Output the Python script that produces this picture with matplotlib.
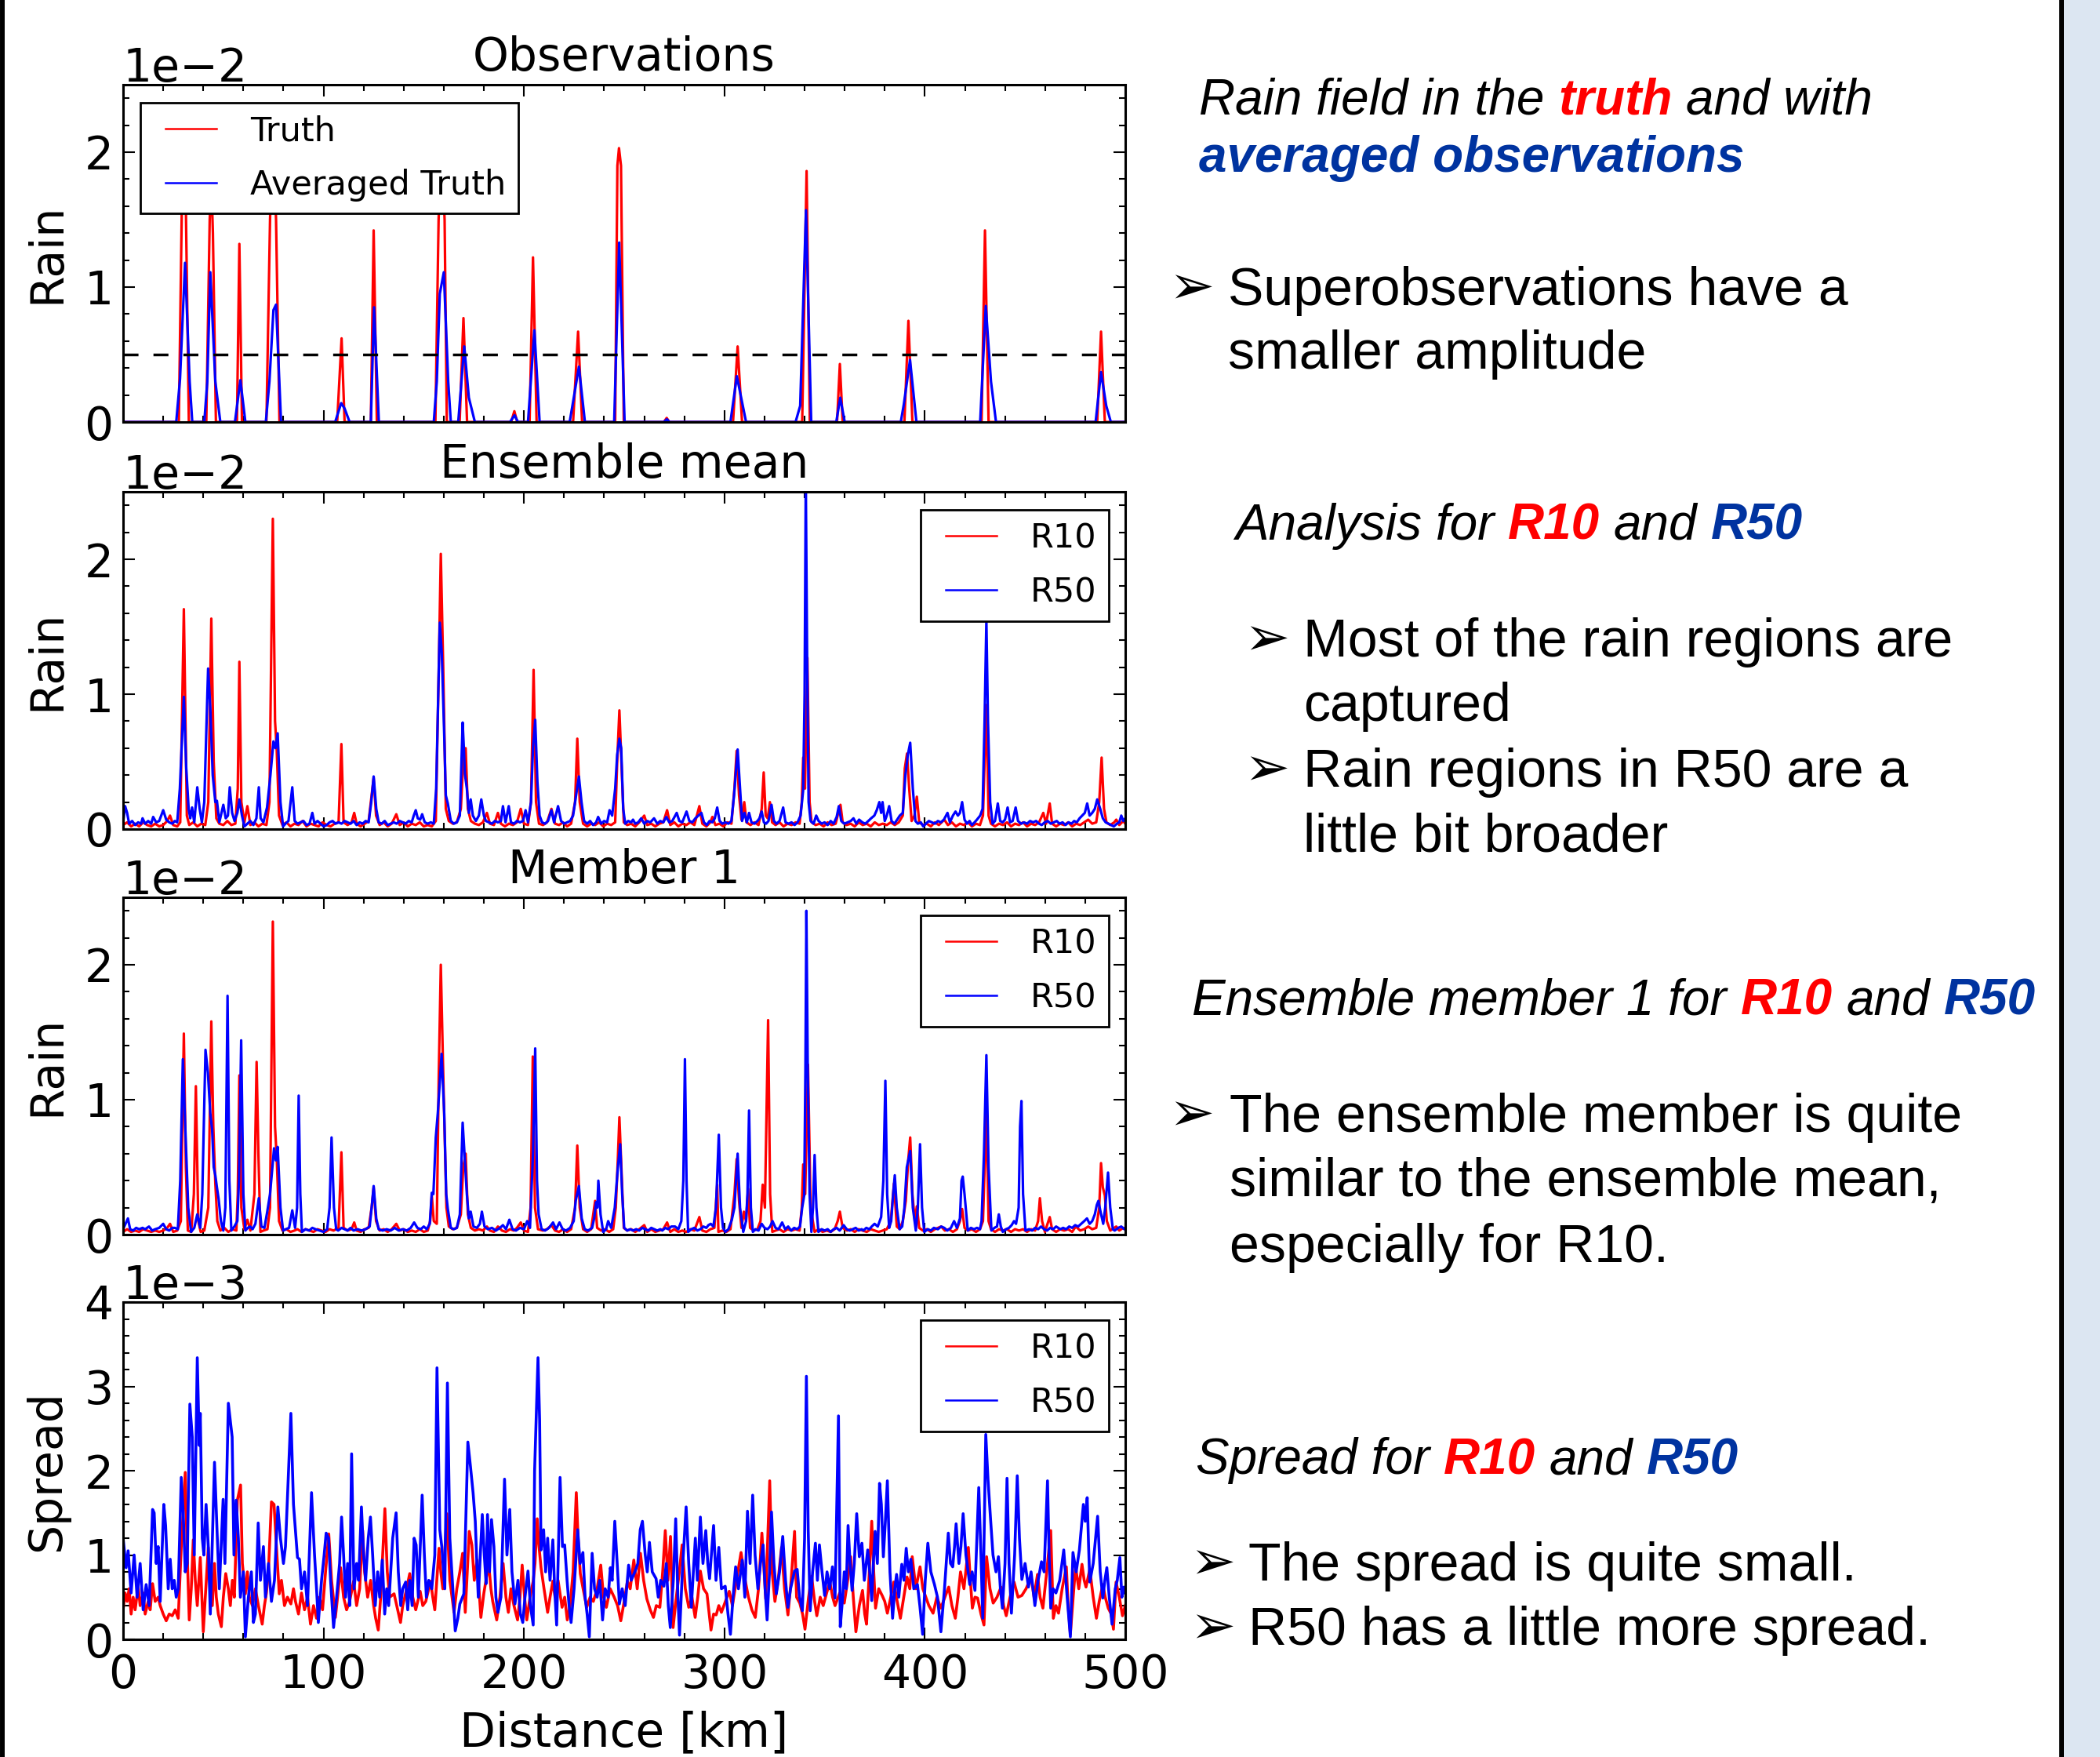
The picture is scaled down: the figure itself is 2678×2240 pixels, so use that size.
import numpy as np
import matplotlib
matplotlib.use('Agg')
import matplotlib.pyplot as plt
from matplotlib.ticker import MultipleLocator, ScalarFormatter
from matplotlib.transforms import IdentityTransform
from matplotlib.patches import Rectangle
from matplotlib.lines import Line2D
from matplotlib.legend_handler import HandlerLine2D

# ---- data (km, value); rain in 1e-2, spread in 1e-3 ----
obs_truth = [(0, 0), (27.8, 0), (29.3, 1.6), (30.3, 1.9), (31.3, 1.6), (32.8, 0), (41.5, 0), (43.2, 1.5),
             (44, 1.8), (44.8, 1.4), (46.3, 0), (56.8, 0), (58, 1.32), (59.3, 0), (71.5, 0), (73.3, 1.5),
             (74.7, 2.2), (76.3, 1.5), (78, 0), (106.8, 0), (109, 0.62), (110.5, 0), (123.6, 0), (125, 1.42),
             (126.6, 0), (155.8, 0), (157.4, 1.5), (158.8, 2.1), (160.4, 1.5), (161.5, 0), (167.9, 0),
             (169.8, 0.77), (171.6, 0), (193.6, 0), (195.2, 0.08), (196.6, 0), (202.8, 0), (204.5, 1.22),
             (206.3, 0), (224.5, 0), (227, 0.67), (229, 0), (245.5, 0), (246.6, 1.9), (247.4, 2.03),
             (248.4, 1.9), (249.8, 0), (269.8, 0), (271.2, 0.03), (272.5, 0), (304.3, 0), (306.6, 0.56),
             (308.8, 0), (338.8, 0), (341, 1.86), (342.6, 0), (356.2, 0), (357.6, 0.43), (359, 0),
             (389.8, 0), (391.8, 0.75), (393.8, 0), (428.3, 0), (430, 1.42), (431.8, 0), (486, 0),
             (487.9, 0.67), (489.8, 0), (500, 0)]
obs_avg = [(0, 0), (26.5, 0), (28.4, 0.32), (30.9, 1.18), (33.2, 0.3), (34.5, 0), (40.5, 0), (42, 0.3),
           (43.5, 1.11), (46, 0.3), (48.5, 0), (55.8, 0), (58.5, 0.31), (61, 0), (71.2, 0), (73, 0.3),
           (75, 0.83), (76.3, 0.87), (78.8, 0), (105.8, 0), (108.8, 0.14), (110.5, 0.1), (113, 0),
           (123.6, 0), (125.2, 0.85), (127.6, 0), (155, 0), (156.5, 0.3), (158, 0.95), (160, 1.11),
           (162.2, 0.3), (163.5, 0), (167.2, 0), (170.2, 0.56), (172.5, 0.18), (175.5, 0), (193, 0),
           (195.3, 0.05), (197, 0), (202, 0), (205.2, 0.68), (207.8, 0), (222.8, 0), (224.5, 0.15),
           (227.4, 0.41), (230.4, 0), (245, 0), (247.5, 1.33), (250.2, 0), (269.8, 0), (271.3, 0.02),
           (272.6, 0), (303, 0), (306.2, 0.34), (310.8, 0), (335.5, 0), (337.8, 0.12), (340.7, 1.57),
           (343.3, 0), (355.8, 0), (357.8, 0.18), (360, 0), (388, 0), (389.5, 0.13), (392.6, 0.46),
           (395.8, 0), (427.6, 0), (430.4, 0.86), (433, 0.3), (435.5, 0), (485.2, 0), (487.9, 0.37),
           (490.5, 0.12), (492.8, 0), (500, 0)]
obs_threshold = 0.5

mean_r10 = [(0, 0.03), (2, 0.05), (4, 0.02), (6, 0.04), (8, 0.02), (10, 0.05), (12, 0.03), (14, 0.02), (16, 0.04),
            (18, 0.02), (20, 0.03), (22, 0.06), (23.4, 0.1), (25, 0.03), (27, 0.02), (28.5, 0.05), (30.3, 1.63),
            (31.8, 0.1), (33, 0.03), (35, 0.05), (37, 0.02), (39, 0.04), (41, 0.03), (42.5, 0.2), (44, 1.56),
            (45.2, 0.5), (46.5, 0.08), (48, 0.04), (50, 0.03), (52, 0.06), (54, 0.03), (56, 0.04), (57.2, 0.3),
            (58, 1.24), (59, 0.2), (60.5, 0.05), (62, 0.17), (63.5, 0.03), (65.5, 0.05), (67.5, 0.02),
            (69.5, 0.04), (71.5, 0.03), (73, 0.2), (74.7, 2.3), (75.8, 0.8), (76.6, 0.6), (77.8, 0.1),
            (79.5, 0.03), (81.5, 0.05), (83.5, 0.02), (85.5, 0.04), (87.5, 0.03), (89.5, 0.06), (91.5, 0.02),
            (93.5, 0.04), (95.5, 0.03), (97.5, 0.02), (99.5, 0.05), (101.5, 0.03), (103.5, 0.02), (105.5, 0.04),
            (107.5, 0.05), (108.9, 0.63), (110, 0.05), (112, 0.03), (114, 0.05), (115.3, 0.12), (116.5, 0.04),
            (118.5, 0.02), (120.5, 0.04), (122.5, 0.06), (124, 0.25), (125, 0.38), (126.2, 0.1), (128, 0.03),
            (130, 0.05), (132, 0.02), (134, 0.04), (136.3, 0.11), (138, 0.03), (140, 0.05), (142, 0.02),
            (144, 0.04), (146, 0.03), (148, 0.05), (150, 0.02), (152, 0.03), (154, 0.02), (156, 0.06),
            (157.5, 1.2), (158.5, 2.04), (159.7, 1.2), (161, 0.15), (162.5, 0.06), (164.5, 0.04), (166.5, 0.05),
            (168.5, 0.15), (169.7, 0.5), (170.9, 0.6), (172, 0.15), (173.5, 0.06), (175.5, 0.04), (177.5, 0.03),
            (179.5, 0.05), (181.5, 0.12), (183, 0.04), (185, 0.03), (187, 0.12), (188.5, 0.04), (190.5, 0.02),
            (192.5, 0.04), (194.5, 0.03), (196.5, 0.05), (198.4, 0.15), (200, 0.04), (202, 0.03), (203.5, 0.2),
            (204.8, 1.18), (206, 0.2), (207.5, 0.04), (209.5, 0.03), (211.5, 0.05), (213.7, 0.15), (215.5, 0.04),
            (217.5, 0.03), (219.5, 0.05), (221.5, 0.02), (223.5, 0.04), (225.5, 0.2), (226.6, 0.67),
            (227.8, 0.2), (229.5, 0.04), (231.5, 0.02), (233.5, 0.04), (235.5, 0.03), (237.5, 0.05),
            (239.5, 0.02), (241.5, 0.04), (243.5, 0.03), (245.5, 0.05), (246.5, 0.5), (247.6, 0.88),
            (248.6, 0.5), (249.8, 0.05), (251.5, 0.03), (253.5, 0.04), (255.5, 0.02), (257.5, 0.05), (260, 0.1),
            (261.5, 0.03), (263.5, 0.04), (265.5, 0.02), (267.5, 0.04), (269.5, 0.05), (271.4, 0.14), (273, 0.03),
            (275, 0.05), (277, 0.02), (279, 0.04), (281, 0.03), (283, 0.05), (285, 0.03), (287.5, 0.17),
            (289, 0.04), (291, 0.02), (293, 0.05), (294, 0.09), (295.5, 0.03), (297.5, 0.04), (299.5, 0.02),
            (301.5, 0.05), (303.5, 0.04), (305, 0.3), (306.1, 0.58), (307.3, 0.25), (308.5, 0.07), (309.9, 0.2),
            (311, 0.05), (313, 0.03), (315, 0.05), (317, 0.03), (318.6, 0.15), (319.6, 0.42), (320.6, 0.1),
            (321.6, 0.08), (322.7, 0.2), (323.8, 0.05), (325.5, 0.03), (327.5, 0.05), (329.5, 0.02),
            (331.5, 0.04), (333.5, 0.03), (335.5, 0.05), (337.5, 0.04), (338.6, 0.2), (339.3, 0.53),
            (340.2, 0.3), (341.4, 1.27), (342.5, 0.2), (343.5, 0.05), (345.5, 0.03), (347.5, 0.04),
            (349.5, 0.02), (351.5, 0.05), (353.5, 0.03), (355.5, 0.04), (356.8, 0.12), (357.9, 0.18), (359, 0.05),
            (361, 0.03), (363, 0.04), (365, 0.02), (367, 0.05), (369, 0.03), (371, 0.04), (373, 0.02), (375, 0.05),
            (377, 0.03), (379, 0.04), (381, 0.03), (383, 0.05), (385, 0.03), (387, 0.05), (389, 0.1), (390, 0.45),
            (391.1, 0.56), (392.2, 0.3), (393.4, 0.06), (394.8, 0.1), (396, 0.24), (397.2, 0.05), (399, 0.03),
            (401, 0.04), (403, 0.02), (405, 0.05), (407, 0.03), (409.7, 0.07), (411.5, 0.03), (413.5, 0.05),
            (415.5, 0.02), (417.5, 0.04), (419.5, 0.03), (421.5, 0.05), (423.5, 0.02), (425.5, 0.04),
            (427.5, 0.03), (429, 0.1), (430.7, 0.92), (431.8, 0.1), (433, 0.04), (435, 0.02), (437, 0.04),
            (439, 0.03), (441, 0.05), (443, 0.02), (445, 0.04), (447, 0.03), (449, 0.05), (451, 0.02), (453, 0.04),
            (455, 0.03), (457, 0.05), (459.1, 0.12), (460.5, 0.04), (462.3, 0.19), (463.5, 0.04), (465.5, 0.02),
            (467.5, 0.04), (469.5, 0.03), (471.5, 0.05), (473.5, 0.02), (475.5, 0.04), (477.5, 0.03),
            (479.5, 0.05), (481.5, 0.07), (483.5, 0.04), (485.5, 0.05), (487, 0.2), (488.2, 0.53), (489.4, 0.15),
            (490.6, 0.05), (492.5, 0.03), (494.5, 0.05), (495.5, 0.07), (497, 0.03), (499, 0.06), (500, 0.04)]
mean_r50 = [(0, 0.05), (1, 0.17), (2, 0.12), (3, 0.04), (4.5, 0.06), (6, 0.03), (7.5, 0.05), (9, 0.04), (9.7, 0.08),
            (11, 0.04), (12.5, 0.06), (14, 0.04), (15, 0.09), (16.5, 0.05), (18, 0.06), (20, 0.14), (21.5, 0.07),
            (23, 0.05), (24.5, 0.04), (25.8, 0.06), (27, 0.05), (28.3, 0.3), (30.3, 0.98), (31.5, 0.45),
            (32.7, 0.15), (33.5, 0.08), (34.4, 0.16), (35.5, 0.05), (37, 0.31), (38.2, 0.15), (39.3, 0.05),
            (40.5, 0.2), (42.4, 1.19), (43.5, 0.9), (44.7, 0.4), (46, 0.2), (46.8, 0.21), (48, 0.05), (50, 0.18),
            (51.2, 0.08), (52.3, 0.1), (53.2, 0.31), (54.4, 0.12), (55.6, 0.06), (57, 0.12), (58, 0.22),
            (59.3, 0.1), (60.5, 0.02), (62, 0.04), (63.5, 0.06), (65, 0.03), (66.5, 0.08), (67.7, 0.31),
            (68.6, 0.08), (70, 0.05), (71.8, 0.16), (73.5, 0.4), (75, 0.65), (76, 0.6), (77.1, 0.71), (78.5, 0.2),
            (79.8, 0.02), (81, 0.04), (82.5, 0.06), (84.4, 0.31), (85.6, 0.06), (87, 0.04), (88.5, 0.05),
            (90, 0.06), (91.5, 0.03), (93, 0.04), (94.4, 0.12), (95.5, 0.04), (97, 0.06), (98.5, 0.04), (100, 0.02),
            (101.5, 0.03), (103, 0.05), (104.5, 0.06), (106, 0.04), (107.5, 0.05), (109, 0.04), (110.5, 0.06),
            (112, 0.05), (113.5, 0.04), (115, 0.06), (116.5, 0.03), (118, 0.05), (119.5, 0.04), (121, 0.06),
            (122.5, 0.05), (123.8, 0.2), (125, 0.39), (126.3, 0.15), (127.5, 0.05), (129, 0.04), (130.5, 0.06),
            (132, 0.03), (133.5, 0.04), (135, 0.05), (136.5, 0.04), (138, 0.06), (139.5, 0.05), (141, 0.04),
            (142.5, 0.06), (144, 0.05), (145, 0.1), (146, 0.14), (147, 0.08), (148.2, 0.07), (149.2, 0.11),
            (150.5, 0.05), (152, 0.04), (153.5, 0.05), (155, 0.04), (156.2, 0.3), (157.2, 1.0), (158, 1.53),
            (159, 1.3), (160.2, 0.7), (161, 0.25), (162, 0.19), (163.5, 0.06), (165, 0.04), (166.5, 0.05),
            (168, 0.1), (169.4, 0.79), (170, 0.6), (170.5, 0.41), (171.5, 0.3), (172.5, 0.12), (173.4, 0.22),
            (174.5, 0.1), (176, 0.06), (177.5, 0.1), (178.7, 0.22), (180, 0.1), (181, 0.06), (182.5, 0.05),
            (184, 0.04), (185.5, 0.06), (187, 0.05), (188.5, 0.06), (189.5, 0.17), (190.8, 0.05), (192.4, 0.17),
            (193.5, 0.05), (195, 0.04), (196.5, 0.06), (198, 0.05), (199.5, 0.06), (200.8, 0.14), (202, 0.05),
            (203.5, 0.2), (204.5, 0.6), (205.6, 0.81), (206.7, 0.35), (207.8, 0.1), (209, 0.05), (210.5, 0.04),
            (212, 0.06), (213.7, 0.14), (215, 0.05), (217, 0.17), (218.5, 0.06), (220, 0.04), (221.5, 0.05),
            (223, 0.06), (224.5, 0.1), (225.5, 0.2), (227.4, 0.39), (228.7, 0.2), (230, 0.06), (231.5, 0.04),
            (233, 0.06), (234.5, 0.03), (236, 0.05), (237, 0.09), (238.5, 0.04), (240, 0.06), (241.5, 0.05),
            (242.7, 0.14), (244, 0.1), (245.5, 0.3), (246.5, 0.55), (247.6, 0.67), (248.5, 0.6), (249.5, 0.15),
            (250.5, 0.04), (252, 0.06), (253.5, 0.05), (254.4, 0.07), (255.5, 0.04), (257, 0.05), (258.5, 0.08),
            (260, 0.04), (261.5, 0.06), (263, 0.05), (264.9, 0.08), (266.5, 0.04), (268, 0.06), (269.5, 0.05),
            (271, 0.09), (272.5, 0.05), (274, 0.06), (276.2, 0.12), (277.5, 0.06), (279, 0.05), (281.1, 0.13),
            (282.5, 0.06), (284, 0.05), (285.5, 0.08), (287, 0.1), (288.5, 0.12), (289.8, 0.05), (291.2, 0.03),
            (292.6, 0.06), (294, 0.05), (295.2, 0.08), (296.4, 0.16), (297.6, 0.06), (299, 0.04), (300.5, 0.05),
            (302, 0.04), (303.5, 0.06), (304.8, 0.25), (306.6, 0.59), (307.8, 0.3), (308.8, 0.06), (310, 0.12),
            (311.2, 0.05), (312.3, 0.12), (313.5, 0.05), (315, 0.04), (316.5, 0.06), (317.5, 0.08),
            (318.6, 0.13), (319.7, 0.05), (320.8, 0.04), (322, 0.06), (323.5, 0.18), (324.7, 0.06), (326, 0.04),
            (327.5, 0.06), (329.3, 0.16), (330.5, 0.05), (332, 0.04), (333.5, 0.05), (335, 0.03), (336.5, 0.05),
            (338, 0.1), (339.3, 0.29), (340, 1.0), (340.6, 2.6), (341.3, 1.2), (342, 0.2), (343, 0.06),
            (344.5, 0.04), (345.8, 0.1), (347, 0.06), (348.5, 0.04), (350, 0.05), (351.5, 0.03), (353, 0.06),
            (354.5, 0.04), (356, 0.09), (357.1, 0.17), (358.3, 0.06), (359.8, 0.04), (361.5, 0.05), (363, 0.06),
            (364.4, 0.08), (365.8, 0.04), (367.2, 0.07), (368.8, 0.05), (370.3, 0.04), (371.8, 0.06),
            (373.2, 0.08), (374.8, 0.1), (376, 0.14), (377.3, 0.2), (378.2, 0.12), (378.9, 0.2), (380, 0.06),
            (381, 0.1), (382.2, 0.17), (383.4, 0.06), (384.8, 0.04), (386.2, 0.07), (387.5, 0.1), (389, 0.12),
            (390.3, 0.4), (391.5, 0.55), (392.7, 0.64), (394, 0.3), (395.3, 0.06), (396.5, 0.04), (398, 0.05),
            (399.2, 0.02), (400.5, 0.04), (402, 0.06), (403.5, 0.05), (405, 0.04), (406.5, 0.06), (408, 0.05),
            (409.5, 0.07), (411.3, 0.12), (412.5, 0.05), (414, 0.1), (415.3, 0.13), (416.5, 0.1), (417.5, 0.12),
            (418.6, 0.2), (419.8, 0.07), (421, 0.04), (422.3, 0.06), (423.5, 0.03), (424.8, 0.05), (426, 0.07),
            (427.6, 0.1), (428.8, 0.15), (429.8, 0.8), (430.7, 1.55), (431.5, 0.8), (432.6, 0.2), (433.8, 0.04),
            (435, 0.06), (436.4, 0.19), (437.6, 0.06), (438.8, 0.05), (440, 0.07), (441.3, 0.16), (442.5, 0.05),
            (443.8, 0.06), (445.3, 0.16), (446.5, 0.06), (448, 0.04), (449.5, 0.05), (451, 0.04), (452.5, 0.06),
            (454, 0.05), (455.5, 0.06), (457, 0.04), (458.3, 0.03), (459.8, 0.05), (461.3, 0.06), (462.8, 0.04),
            (464.3, 0.05), (465.8, 0.06), (467.2, 0.04), (468.7, 0.05), (470.2, 0.03), (471.7, 0.05),
            (473.2, 0.04), (474.5, 0.06), (475.8, 0.05), (477.2, 0.08), (478.5, 0.1), (479.8, 0.12), (481, 0.19),
            (482.2, 0.1), (483.5, 0.12), (484.8, 0.15), (486, 0.22), (487.5, 0.15), (488.8, 0.08), (490.2, 0.05),
            (491.6, 0.04), (493, 0.03), (494.3, 0.02), (495.8, 0.04), (497, 0.05), (498, 0.1), (499, 0.06),
            (500, 0.08)]

member_r10 = [(0, 0.02), (2, 0.04), (4, 0.02), (6, 0.03), (8, 0.02), (10, 0.04), (12, 0.03), (14, 0.02), (16, 0.03),
              (18, 0.02), (20, 0.03), (22, 0.05), (23.4, 0.08), (25, 0.02), (27, 0.03), (28.8, 0.1), (30.3, 1.49),
              (31.3, 0.5), (32.3, 0.03), (34, 0.02), (35.3, 0.3), (36.3, 1.1), (37.5, 0.1), (38.7, 0.02),
              (40.5, 0.03), (42.5, 0.2), (44, 1.58), (45, 0.8), (46, 0.38), (47, 0.1), (48.5, 0.03), (50.5, 0.05),
              (52.5, 0.02), (54.5, 0.04), (56.5, 0.03), (57.2, 0.3), (58, 1.18), (59, 0.2), (60.5, 0.04),
              (62, 0.11), (63.5, 0.03), (65.5, 0.3), (66.6, 1.28), (67.5, 0.6), (68.5, 0.02), (70, 0.03),
              (72, 0.04), (73.3, 0.2), (74.7, 2.32), (75.8, 0.8), (76.6, 0.58), (77.8, 0.1), (79.5, 0.03),
              (81.5, 0.04), (83.5, 0.02), (85.5, 0.03), (87, 0.04), (89, 0.02), (91, 0.04), (93, 0.03), (95, 0.02),
              (97, 0.04), (99, 0.03), (101, 0.02), (103, 0.04), (105, 0.03), (107.5, 0.05), (108.9, 0.61),
              (110, 0.05), (112, 0.03), (114, 0.04), (115.3, 0.09), (116.5, 0.03), (118.5, 0.02), (120.5, 0.04),
              (122.5, 0.05), (124, 0.2), (125, 0.35), (126.2, 0.1), (128, 0.03), (130, 0.04), (132, 0.02),
              (134, 0.04), (136.3, 0.08), (138, 0.03), (140, 0.04), (142, 0.02), (144, 0.03), (146, 0.02),
              (148, 0.04), (150, 0.02), (152, 0.03), (153.2, 0.1), (154, 0.29), (155, 0.1), (156.5, 0.08),
              (157.5, 1.2), (158.5, 2.0), (159.7, 1.2), (161.3, 0.2), (162.5, 0.06), (164.5, 0.04), (166.5, 0.05),
              (168.5, 0.15), (169.7, 0.5), (170.9, 0.6), (172, 0.15), (173.5, 0.05), (175.5, 0.03), (177.5, 0.04),
              (179.5, 0.03), (181.5, 0.06), (183, 0.03), (185, 0.02), (187, 0.06), (189, 0.03), (191, 0.02),
              (193, 0.04), (195, 0.03), (196.5, 0.05), (198.4, 0.09), (200, 0.03), (202, 0.02), (203.3, 0.2),
              (204.4, 1.32), (205.5, 0.2), (207, 0.04), (209.5, 0.03), (211.5, 0.04), (213.7, 0.07),
              (215.5, 0.03), (217.5, 0.02), (219.5, 0.04), (221.5, 0.02), (223.5, 0.04), (225.5, 0.2),
              (226.6, 0.66), (227.8, 0.2), (229.5, 0.04), (231.5, 0.02), (233.5, 0.04), (235.5, 0.25),
              (236.5, 0.05), (238.5, 0.03), (240.5, 0.04), (242.5, 0.02), (244.5, 0.04), (245.8, 0.2),
              (246.8, 0.55), (247.6, 0.87), (248.6, 0.5), (249.8, 0.05), (251.5, 0.03), (253.5, 0.04),
              (255.5, 0.02), (257.5, 0.04), (260, 0.07), (261.5, 0.02), (263.5, 0.04), (265.5, 0.02),
              (267.5, 0.03), (269.5, 0.04), (271.4, 0.09), (273, 0.02), (275, 0.04), (277, 0.02), (279, 0.03),
              (281, 0.02), (283, 0.04), (285, 0.03), (287.5, 0.13), (289, 0.03), (291, 0.02), (293, 0.04),
              (295, 0.05), (296.4, 0.37), (297, 0.02), (299, 0.03), (301, 0.02), (303, 0.04), (305, 0.3),
              (306.1, 0.56), (307.3, 0.25), (308.5, 0.05), (309.7, 0.17), (310.8, 0.1), (311.8, 0.34),
              (312.8, 0.05), (314.5, 0.03), (316.5, 0.04), (318, 0.1), (319.1, 0.37), (320.2, 0.2), (321.8, 1.59),
              (322.8, 0.3), (323.9, 0.02), (325.5, 0.03), (327.5, 0.04), (329.5, 0.02), (331.5, 0.04),
              (333.5, 0.03), (335.5, 0.04), (337.5, 0.03), (338.6, 0.2), (339.3, 0.52), (340.3, 0.3),
              (341.7, 1.26), (343, 0.2), (345, 0.02), (347, 0.04), (349, 0.02), (351, 0.03), (353, 0.02),
              (355, 0.04), (356.5, 0.1), (357.6, 0.17), (359, 0.05), (361.2, 0.03), (363, 0.04), (365, 0.02),
              (367, 0.04), (369, 0.03), (371, 0.02), (373, 0.04), (375, 0.03), (377, 0.02), (379, 0.03),
              (381, 0.04), (383, 0.1), (384.6, 0.38), (386, 0.06), (387.5, 0.04), (389, 0.1), (390.5, 0.25),
              (391.7, 0.55), (392.7, 0.72), (393.8, 0.3), (395, 0.1), (396, 0.21), (397.2, 0.05), (399, 0.03),
              (401, 0.04), (403, 0.02), (405, 0.04), (408.1, 0.06), (410, 0.03), (412, 0.04), (414, 0.02),
              (416, 0.04), (417.5, 0.1), (418.6, 0.19), (419.8, 0.05), (421.5, 0.03), (423.5, 0.04),
              (425.5, 0.02), (427.5, 0.04), (429, 0.1), (430.7, 0.91), (431.8, 0.1), (433, 0.04), (435, 0.02),
              (437, 0.04), (439, 0.03), (441, 0.04), (443, 0.02), (445, 0.04), (447, 0.03), (449, 0.04),
              (451, 0.02), (453, 0.04), (455, 0.03), (456.5, 0.1), (457.4, 0.27), (458.5, 0.1), (459.9, 0.02),
              (461.2, 0.08), (462.3, 0.13), (463.5, 0.04), (465.5, 0.02), (467.5, 0.04), (469.5, 0.03),
              (471.5, 0.04), (473.5, 0.02), (475.3, 0.06), (477.5, 0.03), (479.5, 0.04), (481.5, 0.06),
              (483.5, 0.04), (485.5, 0.05), (487, 0.2), (487.9, 0.53), (488.8, 0.35), (489.8, 0.29),
              (490.8, 0.1), (492.5, 0.03), (494.5, 0.05), (495.5, 0.06), (497, 0.03), (499, 0.05), (500, 0.04)]
member_r50 = [(0, 0.04), (1.2, 0.08), (2.4, 0.12), (3.5, 0.04), (5, 0.03), (6.5, 0.05), (8, 0.04), (9.7, 0.05),
              (11, 0.04), (12.9, 0.06), (14.5, 0.03), (16, 0.04), (18, 0.05), (20, 0.08), (21.5, 0.04), (23, 0.03),
              (24.5, 0.05), (25.8, 0.05), (27.3, 0.04), (28.5, 0.4), (29.8, 1.3), (31, 0.8), (32.5, 0.2),
              (33.9, 0.02), (35.5, 0.05), (37, 0.15), (38.5, 0.05), (39.5, 0.3), (41.1, 1.37), (42.3, 1.2),
              (43.5, 0.9), (44.4, 0.78), (45.2, 0.5), (46, 0.44), (46.8, 0.35), (47.6, 0.27), (48.8, 0.1),
              (50, 0.03), (51, 0.2), (52.1, 1.77), (53, 0.4), (54, 0.03), (55.5, 0.06), (57, 0.1), (57.8, 0.4),
              (58.9, 1.44), (60, 0.3), (61, 0.03), (62.2, 0.05), (63.4, 0.06), (64.6, 0.04), (66, 0.08),
              (67.7, 0.27), (69, 0.06), (70.5, 0.05), (71.8, 0.16), (73.3, 0.3), (75.3, 0.64), (76.2, 0.55),
              (77.1, 0.65), (78.5, 0.2), (79.8, 0.03), (81.2, 0.04), (82.8, 0.05), (84.4, 0.18), (85.8, 0.05),
              (86.8, 0.2), (87.6, 1.03), (88.4, 0.3), (89.2, 0.02), (91, 0.04), (92.8, 0.03), (94.4, 0.05),
              (96, 0.04), (98, 0.03), (100, 0.02), (101.8, 0.04), (103, 0.2), (104, 0.72), (105.2, 0.2),
              (106.3, 0.04), (107.3, 0.03), (109, 0.05), (110.5, 0.04), (112, 0.03), (113.5, 0.05), (115, 0.03),
              (117, 0.04), (119, 0.03), (121, 0.04), (123, 0.06), (124, 0.2), (125, 0.36), (126.3, 0.12),
              (127.5, 0.04), (129.5, 0.03), (131.5, 0.04), (133.5, 0.03), (135.5, 0.05), (137.5, 0.03),
              (139.5, 0.04), (141.5, 0.03), (143.5, 0.05), (145.2, 0.09), (146.8, 0.05), (148.5, 0.04),
              (150, 0.06), (151.5, 0.04), (153, 0.08), (154, 0.31), (154.8, 0.3), (156, 0.72), (157, 0.9),
              (158.9, 1.34), (160.2, 0.9), (161.2, 0.3), (162, 0.19), (163.5, 0.05), (165, 0.04), (166.5, 0.05),
              (168, 0.15), (169.4, 0.83), (170.5, 0.55), (171.5, 0.3), (172.5, 0.12), (173.4, 0.17),
              (174.8, 0.06), (176.5, 0.05), (178, 0.08), (179, 0.17), (180.3, 0.06), (182, 0.04), (184, 0.05),
              (186, 0.03), (188, 0.05), (189.5, 0.07), (191, 0.04), (192.7, 0.11), (194.3, 0.04), (196, 0.03),
              (198, 0.05), (200, 0.04), (201.6, 0.1), (203, 0.05), (204.5, 0.6), (205.6, 1.38), (206.5, 0.4),
              (207.3, 0.15), (208.8, 0.04), (210.5, 0.03), (212.5, 0.05), (214.5, 0.09), (216, 0.04),
              (217.7, 0.09), (219.3, 0.04), (221, 0.03), (223, 0.05), (224.8, 0.1), (225.8, 0.25), (227.4, 0.36),
              (228.8, 0.12), (230.3, 0.04), (232, 0.03), (234, 0.05), (235, 0.12), (236, 0.24), (236.6, 0.2),
              (237.1, 0.4), (238.2, 0.15), (239.5, 0.02), (241, 0.04), (242, 0.1), (243.5, 0.05), (245.3, 0.2),
              (246.8, 0.49), (248, 0.67), (249, 0.3), (250, 0.05), (251.5, 0.03), (253, 0.04), (254.4, 0.03),
              (256, 0.04), (257.5, 0.03), (259, 0.05), (260.5, 0.04), (262, 0.03), (263.5, 0.05), (265, 0.04),
              (266.5, 0.03), (268, 0.04), (269, 0.03), (270.5, 0.05), (272, 0.04), (273.5, 0.06), (275.4, 0.06),
              (277, 0.04), (278.5, 0.1), (279.5, 0.4), (280.3, 1.3), (281.1, 0.4), (281.9, 0.02), (283.5, 0.04),
              (285, 0.05), (286.5, 0.03), (288, 0.04), (289.5, 0.06), (291, 0.05), (292, 0.07), (293.2, 0.08),
              (294.5, 0.06), (295.8, 0.2), (297.2, 0.74), (298.3, 0.2), (299.3, 0.05), (300.5, 0.02), (302, 0.04),
              (303.7, 0.11), (305, 0.2), (306.6, 0.6), (307.8, 0.2), (309.4, 0.02), (310.8, 0.1), (311.5, 0.3),
              (312.3, 0.92), (313.2, 0.2), (314.2, 0.02), (315.5, 0.04), (317, 0.03), (318.6, 0.08), (320, 0.05),
              (321.5, 0.04), (322.8, 0.06), (324, 0.1), (325.5, 0.05), (327, 0.04), (328.8, 0.09), (330.3, 0.04),
              (331.8, 0.06), (333.3, 0.03), (334.8, 0.05), (336.3, 0.04), (337.7, 0.06), (338.8, 0.2),
              (339.8, 0.29), (340.4, 1.2), (340.9, 2.4), (341.6, 1.2), (342.5, 0.3), (343.4, 0.02), (344.2, 0.2),
              (345, 0.59), (345.9, 0.2), (346.9, 0.02), (348.5, 0.04), (350, 0.03), (351.5, 0.04), (353, 0.02),
              (354.5, 0.04), (356, 0.05), (357.5, 0.03), (359.5, 0.07), (361, 0.04), (362.5, 0.03), (364, 0.04),
              (365.5, 0.05), (367, 0.03), (368.5, 0.04), (369.3, 0.03), (370.8, 0.05), (372.3, 0.04),
              (373.5, 0.06), (374.9, 0.08), (376.5, 0.06), (378.2, 0.13), (379.3, 0.4), (380.3, 1.14),
              (381.2, 0.3), (382.2, 0.05), (383.2, 0.1), (384.2, 0.3), (385, 0.44), (386, 0.2), (387.4, 0.04),
              (388.7, 0.06), (389.8, 0.2), (391, 0.5), (392.7, 0.62), (394, 0.2), (395.5, 0.03), (396.5, 0.2),
              (397.6, 0.67), (398.6, 0.2), (399.7, 0.02), (401.5, 0.04), (403, 0.03), (404.5, 0.05),
              (406.5, 0.04), (408.2, 0.06), (409.7, 0.05), (411.2, 0.03), (413, 0.05), (414.6, 0.1), (416, 0.05),
              (417.5, 0.12), (418.3, 0.4), (418.9, 0.43), (419.8, 0.3), (421.4, 0.03), (423, 0.05), (424.5, 0.04),
              (426, 0.05), (427.5, 0.04), (428.3, 0.1), (429.5, 0.6), (430.7, 1.33), (431.8, 0.5), (433.2, 0.03),
              (434.7, 0.05), (436, 0.06), (436.9, 0.15), (437.9, 0.06), (438.9, 0.02), (440.5, 0.04), (442, 0.05),
              (443.3, 0.07), (444.5, 0.1), (445.5, 0.08), (446.8, 0.2), (447.5, 0.8), (448.2, 0.99), (449, 0.3),
              (450.2, 0.03), (452, 0.04), (453.5, 0.03), (455, 0.05), (456.5, 0.04), (458, 0.06), (459.5, 0.04),
              (461, 0.03), (462.5, 0.05), (464, 0.04), (465.5, 0.06), (467.6, 0.04), (469, 0.05), (470.5, 0.04),
              (472, 0.06), (473.5, 0.05), (475, 0.07), (476.5, 0.06), (478, 0.08), (479.5, 0.1), (480.9, 0.12),
              (482.2, 0.08), (483.5, 0.1), (484.8, 0.15), (485.8, 0.22), (486.6, 0.25), (487.5, 0.18),
              (488.4, 0.12), (489, 0.08), (490, 0.2), (491.4, 0.46), (492.5, 0.2), (493.8, 0.04), (494.7, 0.03),
              (496.5, 0.05), (498, 0.06), (499.5, 0.04), (500, 0.05)]

spread_r10 = [(0, 0.35), (1, 0.55), (2, 0.45), (3, 0.6), (4, 0.3), (5, 0.5), (6, 0.35), (7.5, 0.62), (8.5, 0.4),
              (10, 0.55), (11, 0.3), (12.5, 0.45), (13.5, 0.35), (14.7, 0.66), (16, 0.45), (17.5, 0.5), (18.5, 0.4),
              (20, 0.3), (21.5, 0.22), (23, 0.3), (24.5, 0.28), (26, 0.35), (27.5, 0.25), (29, 1.09), (31, 1.98),
              (32, 1.0), (33, 0.23), (34, 0.6), (35, 1.18), (36, 0.7), (37, 0.4), (38.5, 0.97), (39.3, 0.5),
              (40, 0.09), (41, 0.5), (42.5, 1.09), (43.5, 0.6), (44.5, 0.4), (45.6, 0.9), (46.5, 0.5), (47.5, 0.3),
              (49, 0.15), (50, 0.5), (51.2, 0.78), (52.5, 0.6), (53.5, 0.4), (54.5, 0.7), (55.5, 0.5), (57, 1.65),
              (58.6, 1.83), (59.5, 0.9), (61, 0.54), (62, 0.8), (63, 0.5), (64.5, 0.4), (66, 0.6), (67.5, 0.4),
              (69.4, 0.18), (70.5, 0.4), (71.5, 0.55), (72.5, 0.8), (74, 1.63), (75.3, 1.6), (76.5, 1.1),
              (77.9, 0.54), (79, 0.7), (80.5, 0.4), (82, 0.5), (83.7, 0.42), (85, 0.6), (86, 0.45), (87.5, 0.3),
              (89, 0.55), (90.5, 0.35), (92, 0.5), (93.5, 0.18), (95, 0.4), (96.5, 0.25), (98, 0.5), (99.5, 0.35),
              (101, 0.8), (102.6, 1.25), (104, 0.7), (105.9, 0.26), (107, 0.5), (108.5, 0.85), (110, 0.5),
              (111.5, 0.35), (113, 0.45), (115, 0.69), (116.5, 0.4), (118, 0.6), (119.5, 1.29), (120.5, 0.8),
              (122, 0.5), (123.5, 0.7), (125, 0.4), (126, 0.25), (127.3, 0.11), (128.5, 0.5), (130.6, 1.55),
              (131.8, 0.8), (133, 0.5), (135.2, 0.54), (136.5, 0.4), (138.4, 0.2), (139.5, 0.4), (141, 0.55),
              (143, 0.78), (144.5, 0.5), (146, 0.35), (148.2, 0.57), (149.5, 0.4), (151, 0.45), (153.4, 0.69),
              (154.5, 0.5), (155.5, 0.35), (157.6, 1.08), (158.5, 0.8), (159.5, 0.6), (161.5, 1.49), (163, 0.7),
              (165.1, 0.32), (166.5, 0.6), (168, 0.8), (169.4, 1.02), (170.7, 0.32), (172.7, 1.28), (174, 1.12),
              (175.2, 0.7), (176.6, 0.94), (178.5, 0.26), (180, 0.55), (182.4, 0.9), (183.5, 0.6), (184.4, 0.45),
              (186.4, 0.23), (188, 0.5), (189.6, 0.9), (191, 0.5), (192.2, 0.32), (193.5, 0.6), (195, 0.4),
              (196.8, 0.23), (198, 0.5), (199.1, 0.88), (200.3, 0.5), (201.4, 0.23), (203, 0.5), (204.6, 0.69),
              (205.5, 0.9), (206.6, 1.43), (207.5, 1.1), (208.5, 0.85), (210, 0.6), (211.8, 0.32), (213, 0.5),
              (214.4, 0.69), (215.5, 0.5), (217, 0.7), (219, 0.38), (220.3, 0.5), (221.6, 0.23), (223, 0.4),
              (224.5, 0.8), (226.1, 1.74), (227, 1.2), (228.1, 0.78), (229.5, 0.6), (231.3, 0.38), (233, 0.5),
              (234.6, 0.45), (236.5, 0.6), (238.3, 0.88), (239.7, 0.5), (241.1, 0.38), (243, 0.6), (245, 0.5),
              (246.7, 0.4), (248.3, 0.22), (250, 0.45), (251.6, 0.69), (253, 0.6), (254.8, 0.94), (256.5, 0.6),
              (258.1, 1.02), (259.7, 0.7), (261.3, 0.48), (263, 0.35), (264.6, 0.26), (266, 0.4), (267.8, 0.38),
              (269.2, 0.8), (270.5, 1.29), (271.8, 0.7), (273.1, 1.22), (274.4, 0.14), (276, 0.5), (277.5, 0.8),
              (278.9, 1.12), (280.5, 0.6), (282.2, 0.38), (283.8, 0.5), (285.4, 0.26), (286.7, 0.5), (288, 0.81),
              (289.6, 0.6), (291.3, 0.54), (293.3, 0.11), (294.6, 0.3), (295.9, 0.29), (297.2, 0.4), (298.5, 0.32),
              (300.5, 0.45), (302.4, 0.57), (304, 0.4), (306, 0.7), (308.3, 1.03), (310.2, 0.72), (312, 0.5),
              (313.7, 0.35), (315.4, 0.26), (317, 0.6), (318.7, 1.26), (320.6, 0.48), (322.6, 1.88), (323.8, 0.8),
              (325.2, 0.45), (326.8, 0.7), (328.5, 1.09), (330, 0.6), (331.7, 0.29), (333.3, 0.7), (335, 1.28),
              (336, 0.5), (337.6, 0.43), (339, 0.3), (340.2, 0.12), (342, 0.5), (343.5, 0.75), (345, 0.45),
              (346.1, 0.28), (347.8, 0.5), (349.3, 0.4), (351, 0.55), (352.6, 0.68), (354, 0.5), (355.2, 0.4),
              (357.5, 0.55), (359.8, 0.43), (361.5, 0.7), (363, 0.98), (364.3, 0.5), (365.6, 0.09), (367.3, 0.4),
              (368.9, 0.58), (370, 0.3), (370.9, 0.18), (372.3, 0.8), (373.5, 1.4), (374.5, 0.8), (375.4, 0.37),
              (377, 0.6), (378.7, 0.52), (380, 0.45), (381.3, 0.31), (383, 0.5), (384.5, 0.68), (386.2, 0.45),
              (387.8, 0.25), (389.5, 0.5), (391.1, 0.74), (392.5, 0.6), (393.7, 0.98), (395.5, 0.6),
              (397.6, 0.86), (399, 0.6), (400.2, 0.52), (402, 0.4), (404.1, 0.31), (406, 0.5), (408, 0.37),
              (410, 0.5), (411.9, 0.62), (413.5, 0.4), (415.2, 0.25), (416.5, 0.5), (417.8, 0.8), (419.5, 0.6),
              (421.7, 1.09), (422.7, 0.7), (423.7, 0.37), (425, 0.5), (426.3, 0.49), (428, 0.3), (429.5, 0.17),
              (430.8, 0.98), (432.5, 0.6), (434.1, 0.43), (436, 0.5), (438, 0.62), (439.3, 0.4), (440.6, 0.28),
              (442.5, 0.5), (444.5, 0.68), (446.5, 0.5), (448.4, 0.52), (450.5, 0.6), (453, 0.74), (454.5, 0.5),
              (456.2, 0.77), (457.5, 0.5), (458.9, 0.37), (460.8, 0.8), (462.8, 1.29), (464.1, 0.25),
              (465.4, 0.4), (466.7, 0.31), (468.5, 0.6), (470.6, 0.86), (471.5, 0.4), (472.6, 0.06), (474, 0.5),
              (475.2, 0.86), (476.8, 0.6), (478.4, 0.89), (479.5, 0.7), (480.4, 0.62), (482.3, 0.83), (484, 0.5),
              (485.6, 0.25), (487, 0.45), (488.8, 0.65), (490, 0.5), (491.5, 0.37), (493, 0.3), (494.1, 0.12),
              (495.4, 0.68), (497, 0.5), (498.6, 0.28), (500, 0.4)]
spread_r50 = [(0, 1.2), (1.5, 0.85), (2.5, 1.05), (4, 0.55), (5.5, 1.0), (7, 0.5), (8.5, 0.9), (10, 0.35),
              (11.5, 0.65), (13, 0.4), (14.7, 1.54), (15.5, 1.5), (16.5, 0.9), (17.5, 1.1), (18.5, 0.45),
              (20.3, 1.6), (21.2, 1.35), (22.5, 0.6), (23.5, 0.95), (24.5, 0.6), (25.5, 0.7), (26.5, 0.5),
              (27.5, 0.6), (29, 1.92), (30, 1.5), (31, 0.8), (32, 0.9), (33.3, 2.79), (34.5, 2.4), (35.5, 1.0),
              (37, 3.34), (38, 2.3), (38.5, 2.68), (39.5, 1.2), (40.3, 1.0), (41.4, 1.6), (42.5, 1.1), (43.5, 0.3),
              (45.6, 2.1), (47, 1.2), (48, 0.6), (49.9, 1.66), (50.8, 0.9), (52.5, 2.8), (54.4, 2.4), (55.3, 1.0),
              (56.4, 1.65), (57.5, 1.2), (58.5, 0.5), (60, 0.8), (61, 0.03), (62.5, 0.5), (64, 0.8), (65, 0.2),
              (66, 0.3), (67.4, 1.38), (68.5, 0.7), (70, 1.1), (71, 0.5), (72.5, 0.9), (74, 0.45), (75.5, 0.7),
              (77.2, 1.57), (78.5, 1.2), (80, 0.9), (81, 1.1), (83.7, 2.68), (85, 1.6), (87, 0.97), (88, 0.95),
              (89, 0.6), (90.5, 0.8), (92, 0.4), (94, 1.74), (95.5, 1.0), (96.5, 0.6), (97.4, 0.2), (99, 0.7),
              (100.3, 1.0), (101.3, 1.26), (102.5, 1.2), (103.5, 0.7), (105, 0.14), (106.5, 0.5), (108, 0.9),
              (109, 1.45), (110, 1.0), (111, 0.5), (112, 0.9), (113, 0.4), (114, 2.2), (115.2, 0.6), (116.5, 0.9),
              (117.5, 0.7), (118.9, 1.57), (120, 1.0), (121, 0.7), (122.3, 1.2), (123.4, 1.45), (124.5, 1.0),
              (125.8, 0.4), (127, 0.8), (128, 0.5), (129.3, 0.94), (130.5, 0.3), (131.5, 0.6), (132.5, 0.4),
              (133.5, 0.8), (134.5, 1.2), (136.2, 1.5), (137.3, 0.8), (138.5, 0.4), (139.5, 0.6), (141, 0.68),
              (142, 0.35), (143, 0.7), (144.2, 0.4), (145.2, 1.2), (146.2, 1.12), (147.3, 0.5), (149.2, 1.71),
              (150.3, 1.0), (151.3, 0.5), (152.5, 0.7), (154, 0.6), (155.5, 1.0), (156.6, 3.22), (158, 1.3),
              (159, 1.1), (160.5, 0.6), (161.8, 3.04), (163, 1.2), (164.5, 0.6), (165.7, 0.1), (167, 0.25),
              (168, 0.42), (170, 0.54), (172, 2.34), (173.3, 2.05), (174.6, 1.74), (175.7, 1.4), (176.5, 0.9),
              (177.2, 0.5), (178.2, 1.0), (179.2, 1.48), (180.2, 1.0), (181.1, 0.66), (181.8, 1.48), (182.8, 0.8),
              (183.8, 1.42), (185, 1.1), (186, 0.5), (187, 0.32), (188.5, 0.5), (190.3, 1.9), (191.5, 1.0),
              (192.9, 1.54), (194, 0.8), (195.5, 0.42), (197, 0.7), (198.2, 0.3), (199.4, 0.2), (200.5, 0.5),
              (202, 0.81), (203.2, 0.4), (204.6, 0.17), (205.3, 2.0), (207, 3.34), (207.8, 2.6), (208.5, 1.06),
              (209.8, 1.3), (210.8, 0.8), (211.8, 1.2), (213, 0.7), (214.4, 1.18), (215.3, 0.6), (216.3, 0.17),
              (218, 1.92), (219.2, 1.1), (220.3, 1.12), (221.5, 0.7), (222.5, 0.4), (223.5, 0.2), (225, 0.6),
              (226.8, 1.3), (228, 0.9), (229.4, 1.03), (230.5, 0.5), (231.5, 0.3), (232.6, 0.03), (234, 1.02),
              (235.2, 0.6), (236.5, 0.5), (237.8, 0.7), (239.2, 0.23), (240.5, 0.6), (242, 0.5), (243.1, 0.85),
              (244, 0.7), (245.3, 1.4), (246.5, 0.9), (247.6, 0.42), (249, 0.6), (250.5, 0.4), (252.2, 0.88),
              (253.5, 0.7), (255.5, 0.81), (256.8, 0.9), (258, 1.3), (259.1, 1.4), (260.5, 1.0), (261.5, 0.8),
              (262.6, 1.15), (264, 0.8), (265.9, 0.72), (267, 0.5), (268.2, 0.7), (269.8, 0.63), (271, 0.9),
              (272, 0.4), (273, 0.14), (274.5, 0.7), (275.7, 1.43), (276.8, 0.5), (277.6, 0.05), (279, 0.8),
              (280.9, 1.57), (282.2, 0.9), (283.5, 0.38), (284.5, 0.8), (285.5, 1.2), (286.5, 0.7), (288, 1.45),
              (289.3, 0.9), (290.7, 1.29), (291.7, 0.9), (292.6, 0.72), (293.5, 1.0), (294.6, 1.35), (295.8, 0.7),
              (297.2, 1.09), (298.5, 0.6), (300.4, 0.63), (301.8, 0.3), (303, 0.06), (304.3, 0.5), (305.6, 0.86),
              (307, 0.6), (308.9, 0.94), (310.2, 0.5), (311.5, 1.52), (312.8, 0.9), (314.1, 1.71), (315.3, 1.0),
              (316.7, 0.6), (318, 0.9), (319.3, 1.12), (320.3, 0.6), (321.3, 0.23), (322.5, 0.8), (323.5, 1.51),
              (324.7, 0.9), (325.9, 0.54), (327.5, 0.8), (329.1, 1.22), (330.5, 0.7), (331.7, 0.38), (333, 0.6),
              (335, 0.81), (336.3, 0.83), (337.5, 0.5), (338.9, 0.34), (340, 1.2), (340.9, 3.12), (341.8, 1.3),
              (342.8, 0.34), (344, 0.8), (345.4, 1.14), (346.4, 0.7), (347.4, 1.12), (348.7, 0.8), (350, 0.52),
              (351.2, 0.8), (352.5, 0.6), (353.9, 0.86), (355.2, 0.49), (356.9, 2.65), (357.8, 0.15), (359, 0.5),
              (359.8, 0.8), (360.8, 0.6), (361.7, 1.35), (362.7, 0.9), (363.7, 0.58), (364.8, 0.9), (366, 1.49),
              (367.3, 0.98), (368.6, 1.14), (369.8, 0.7), (371.5, 1.06), (372.5, 0.8), (373.5, 0.46),
              (374.3, 0.9), (375.2, 1.28), (376.3, 0.9), (377.4, 1.85), (378.3, 1.6), (379.3, 0.98), (380.3, 1.4),
              (381.3, 1.88), (382.6, 0.8), (383.9, 0.25), (385, 0.6), (385.9, 0.77), (387, 0.5), (388.5, 0.89),
              (389.6, 0.7), (390.7, 1.08), (391.8, 0.8), (393, 0.95), (394.5, 0.6), (396.3, 0.65), (397.5, 0.4),
              (398.9, 0.06), (400.2, 0.7), (401.5, 1.14), (403, 0.8), (404.8, 0.65), (406.3, 0.5), (408, 0.09),
              (409.8, 0.6), (411.7, 1.26), (412.8, 0.9), (413.9, 0.86), (414.8, 1.1), (415.6, 1.37), (417, 0.9),
              (418, 1.1), (419.1, 1.49), (420.5, 1.0), (422.4, 0.65), (423.6, 0.8), (425, 0.58), (426.9, 1.8),
              (428, 1.0), (428.9, 0.25), (430.4, 2.43), (431.5, 1.9), (432.8, 1.42), (434, 1.0), (435.5, 0.8),
              (436.7, 0.98), (437.7, 0.6), (438.7, 0.37), (440, 0.9), (441, 1.91), (442, 0.9), (443.2, 0.31),
              (444.8, 1.0), (446.1, 1.94), (447.2, 1.2), (448.4, 0.71), (450, 0.9), (451.7, 0.62), (453, 0.8),
              (454.9, 0.4), (456.5, 0.7), (458.2, 0.92), (459.5, 0.8), (461.2, 1.88), (462, 1.0), (462.8, 0.37),
              (464, 0.6), (465.4, 0.55), (467.3, 0.7), (469.3, 1.06), (471, 0.5), (472.6, 0.03), (473.9, 1.03),
              (475.5, 0.8), (477.1, 1.06), (478, 1.3), (479.1, 1.6), (480, 1.4), (481, 1.68), (481.7, 1.1),
              (482.3, 0.68), (484, 0.9), (486.2, 1.46), (487.5, 0.8), (488.8, 0.49), (489.8, 0.7), (490.8, 0.85),
              (492, 0.5), (493.4, 0.18), (495, 0.6), (496, 0.7), (497.3, 0.97), (498.3, 0.5), (499.3, 0.62),
              (500, 0.55)]

panel_titles = ['Observations', 'Ensemble mean', 'Member 1', '']
panel_ylabels = ['Rain', 'Rain', 'Rain', 'Spread']

# ---- figure ----
W, H = 2678, 2240
plt.rcParams['font.family'] = 'DejaVu Sans'
fig = plt.figure(figsize=(W / 100, H / 100), dpi=100)
fig.patch.set_facecolor('white')

# slide frame
fig.add_artist(Line2D([3 / W, 3 / W], [0, 1], transform=fig.transFigure, color='black', lw=4.3))
fig.add_artist(Line2D([2629 / W, 2629 / W], [0, 1], transform=fig.transFigure, color='black', lw=4.3))
fig.add_artist(Rectangle((2632 / W, 0), 46 / W, 1, transform=fig.transFigure, color='#dce6f2', lw=0))

ax_left, ax_w, ax_h = 157, 1278, 430
tops = [108, 627, 1144, 1660]
axes = [fig.add_axes([ax_left / W, 1 - (t + ax_h) / H, ax_w / W, ax_h / H]) for t in tops]


def xy(series, scale):
    a = np.array(series, dtype=float)
    return a[:, 0], a[:, 1] * scale


def style(ax, ymax, ymajor, yminor, show_x):
    ax.set_xlim(0, 500)
    ax.set_ylim(0, ymax)
    ax.xaxis.set_major_locator(MultipleLocator(100))
    ax.xaxis.set_minor_locator(MultipleLocator(20))
    ax.yaxis.set_major_locator(MultipleLocator(ymajor))
    ax.yaxis.set_minor_locator(MultipleLocator(yminor))
    fmt = ScalarFormatter()
    fmt.set_powerlimits((0, 0))
    ax.yaxis.set_major_formatter(fmt)
    ax.tick_params(which='both', direction='in', top=True, right=True, labelsize=42, width=1.5)
    ax.tick_params(which='major', length=11)
    ax.tick_params(which='minor', length=6)
    ax.tick_params(axis='x', pad=12, labelbottom=show_x)
    ax.tick_params(axis='y', pad=9)
    ax.yaxis.get_offset_text().set_fontsize(42)
    for s in ax.spines.values():
        s.set_linewidth(2.2)


lw = 2.3
ax = axes[0]
ax.plot(*xy(obs_truth, 1e-2), color='red', lw=lw, label='Truth')
ax.plot(*xy(obs_avg, 1e-2), color='blue', lw=lw, label='Averaged Truth')
ax.axhline(obs_threshold * 1e-2, color='black', lw=2.5, ls='--', dashes=(5.5, 5.5))

axes[1].plot(*xy(mean_r10, 1e-2), color='red', lw=lw, label='R10')
axes[1].plot(*xy(mean_r50, 1e-2), color='blue', lw=lw, label='R50')
axes[2].plot(*xy(member_r10, 1e-2), color='red', lw=lw, label='R10')
axes[2].plot(*xy(member_r50, 1e-2), color='blue', lw=lw, label='R50')
axes[3].plot(*xy(spread_r10, 1e-3), color='red', lw=2.6, label='R10')
axes[3].plot(*xy(spread_r50, 1e-3), color='blue', lw=2.6, label='R50')

for i, ax in enumerate(axes):
    if i < 3:
        style(ax, 0.025, 0.01, 0.002, False)
    else:
        style(ax, 0.004, 0.001, 0.0002, True)
    if panel_titles[i]:
        ax.set_title(panel_titles[i], fontsize=42, pad=13)
    yc = 1 - (tops[i] + ax_h / 2) / H
    fig.text(60 / W, yc, panel_ylabels[i], rotation=90, ha='center', va='center', fontsize=42)

leg_kw = dict(fontsize=31, frameon=True, fancybox=False, borderpad=0.36, labelspacing=0.62,
              handlelength=1.9, handletextpad=1.0, borderaxespad=0, framealpha=1,
              handler_map={Line2D: HandlerLine2D(xpad=0.4)})
legs = [axes[0].legend(loc='upper left', bbox_to_anchor=(0.017, 0.947), **leg_kw)]
for ax in axes[1:]:
    legs.append(ax.legend(loc='upper right', bbox_to_anchor=(0.9836, 0.9465), **leg_kw))
for lg in legs:
    lg.get_frame().set_edgecolor('black')
    lg.get_frame().set_linewidth(2.0)
    for h in lg.get_lines():
        h.set_linewidth(1.8)

fig.text((ax_left + ax_w / 2) / W, 14 / H, 'Distance [km]', ha='center', va='baseline', fontsize=43)

# ---- right-hand notes ----
fig.canvas.draw()
rend = fig.canvas.get_renderer()
ident = IdentityTransform()
RED, NAVY = '#ff0000', '#0033a0'


def line(x, y_top, parts, size):
    px = size * 100 / 72
    y = H - y_top
    for s, color, bold, italic in parts:
        lead = len(s) - len(s.lstrip(' '))
        trail = len(s) - len(s.rstrip(' '))
        x += lead * 0.278 * px
        t = fig.text(x, y, s.strip(' '), transform=ident, color=color, fontsize=size,
                     family='Liberation Sans', fontweight='bold' if bold else 'normal',
                     fontstyle='italic' if italic else 'normal', va='baseline', ha='left')
        x += t.get_window_extent(rend).width + trail * 0.278 * px


def bullet(x, y_top):
    fig.text(x, H - y_top + 2, '\u27a2', transform=ident, fontsize=50, family=['DejaVu Sans'],
             va='baseline', ha='left')


HS, BS = 46, 49
line(1529, 145, [('Rain field in the ', 'black', False, True), ('truth', RED, True, True),
                 (' and with', 'black', False, True)], HS)
line(1529, 219, [('averaged observations', NAVY, True, True)], HS)
bullet(1490, 389)
line(1566, 389, [('Superobservations have a', 'black', False, False)], BS)
line(1566, 470, [('smaller amplitude', 'black', False, False)], BS)

line(1575, 688, [('Analysis for ', 'black', False, True), ('R10', RED, True, True),
                 (' and ', 'black', False, True), ('R50', NAVY, True, True)], HS)
bullet(1586, 837)
line(1662, 837, [('Most of the rain regions are', 'black', False, False)], BS)
line(1662, 919, [('captured', 'black', False, False)], BS)
bullet(1586, 1003)
line(1662, 1003, [('Rain regions in R50 are a', 'black', False, False)], BS)
line(1662, 1085, [('little bit broader', 'black', False, False)], BS)

line(1520, 1293, [('Ensemble member 1 for ', 'black', False, True), ('R10', RED, True, True),
                  (' and ', 'black', False, True), ('R50', NAVY, True, True)], HS)
bullet(1490, 1443)
line(1568, 1443, [('The ensemble member is quite', 'black', False, False)], BS)
line(1568, 1525, [('similar to the ensemble mean,', 'black', False, False)], BS)
line(1568, 1609, [('especially for R10.', 'black', False, False)], BS)

line(1525, 1879, [('Spread for ', 'black', False, True), ('R10', RED, True, True),
                  (' and ', 'black', False, True), ('R50', NAVY, True, True)], HS)
bullet(1517, 2015)
line(1592, 2015, [('The spread is quite small.', 'black', False, False)], BS)
bullet(1517, 2097)
line(1592, 2097, [('R50 has a little more spread.', 'black', False, False)], BS)

fig.savefig('out.png', dpi=100, facecolor='white')
